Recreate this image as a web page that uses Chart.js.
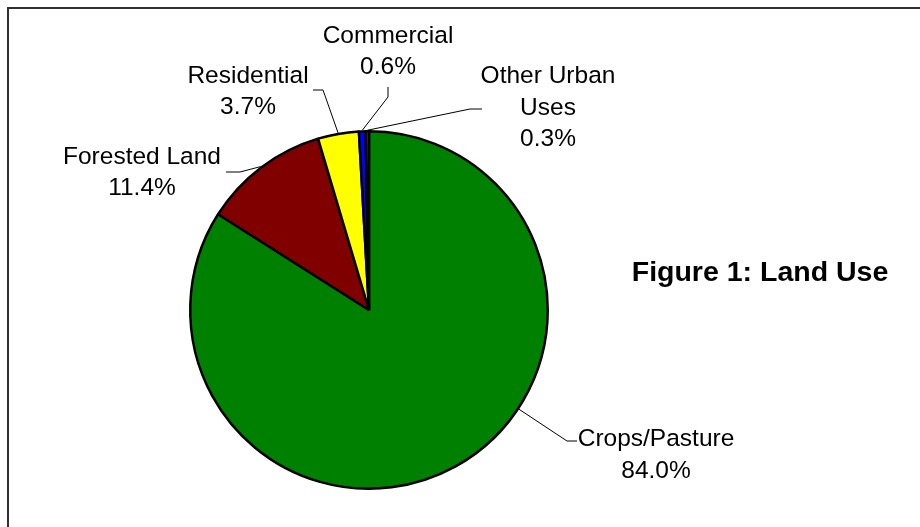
<!DOCTYPE html>
<html>
<head>
<meta charset="utf-8">
<script src="https://cdn.jsdelivr.net/npm/chart.js@4"></script>
<style>
  html, body { margin: 0; padding: 0; background: #ffffff; }
  #wrap { width: 920px; height: 527px; position: relative; }
</style>
</head>
<body>
<div id="wrap"><canvas id="c" width="920" height="527"></canvas></div>
<script>
// Land use shares, clockwise from twelve o'clock
const categories = ['Crops/Pasture', 'Forested Land', 'Residential', 'Commercial', ['Other Urban', 'Uses']];
const shares = [84.0, 11.4, 3.7, 0.6, 0.3];
const sliceColors = ['#008000', '#800000', '#FFFF00', '#0000FF', '#800080'];
const titleText = 'Figure 1: Land Use';

// Callout placement: label centre x, first baseline y, leader elbow points
// (from label outward), and how the leader meets the slice.
const labelPlacement = [
  { x: 656, y: 446, elbow: [[577, 441], [567, 441]], toward: 'elbow' },
  { x: 142, y: 163.5, elbow: [[226, 172], [240, 172]], toward: 'mid' },
  { x: 248, y: 82.5, elbow: [[313, 90], [323, 90]], toward: 'mid' },
  { x: 388, y: 42.5, elbow: [[388, 87], [388, 97]], toward: 'mid' },
  { x: 548, y: 83, elbow: [[482, 109], [470, 109]], toward: 'mid' }
];

const LABEL_FONT = '24.5px "Liberation Sans", Arial, sans-serif';
const TITLE_FONT = 'bold 28.5px "Liberation Sans", Arial, sans-serif';
const LINE_STEP = 31.5;

const calloutPlugin = {
  id: 'callouts',
  beforeDraw(chart) {
    const ctx = chart.ctx;
    ctx.save();
    ctx.fillStyle = '#ffffff';
    ctx.fillRect(0, 0, chart.width, chart.height);
    // chart frame (top and left edges)
    ctx.strokeStyle = '#303030';
    ctx.lineWidth = 2;
    ctx.beginPath();
    ctx.moveTo(8, chart.height);
    ctx.lineTo(8, 8);
    ctx.lineTo(chart.width, 8);
    ctx.stroke();
    ctx.restore();
  },
  afterDatasetsDraw(chart) {
    const ctx = chart.ctx;
    const meta = chart.getDatasetMeta(0);
    const values = chart.data.datasets[0].data;
    ctx.save();
    meta.data.forEach((arc, i) => {
      const p = labelPlacement[i];
      const { x, y, startAngle, endAngle, outerRadius } =
        arc.getProps(['x', 'y', 'startAngle', 'endAngle', 'outerRadius'], true);
      const last = p.elbow[p.elbow.length - 1];
      let a = (startAngle + endAngle) / 2;
      if (p.toward === 'elbow') {
        a = Math.atan2(last[1] - y, last[0] - x);
        while (a < startAngle) a += Math.PI * 2;
        a = Math.min(Math.max(a, startAngle), endAngle);
      }
      const r = outerRadius + 1;
      const ex = x + r * Math.cos(a);
      const ey = y + r * Math.sin(a);

      // leader line
      ctx.strokeStyle = '#000000';
      ctx.lineWidth = 1;
      ctx.beginPath();
      ctx.moveTo(p.elbow[0][0], p.elbow[0][1]);
      for (let k = 1; k < p.elbow.length; k++) ctx.lineTo(p.elbow[k][0], p.elbow[k][1]);
      ctx.lineTo(ex, ey);
      ctx.stroke();

      // label text: category name then share
      const name = chart.data.labels[i];
      const lines = (Array.isArray(name) ? name.slice() : [name]);
      lines.push(values[i].toFixed(1) + '%');
      ctx.fillStyle = '#000000';
      ctx.font = LABEL_FONT;
      ctx.textAlign = 'center';
      ctx.textBaseline = 'alphabetic';
      lines.forEach((t, k) => ctx.fillText(t, p.x, p.y + k * LINE_STEP));
    });

    // chart title
    ctx.font = TITLE_FONT;
    ctx.textAlign = 'center';
    ctx.fillText(titleText, 760, 281);
    ctx.restore();
  }
};

new Chart(document.getElementById('c'), {
  type: 'pie',
  data: {
    labels: categories,
    datasets: [{
      data: shares,
      backgroundColor: sliceColors,
      borderColor: '#000000',
      borderWidth: 2.5
    }]
  },
  options: {
    responsive: false,
    animation: false,
    events: [],
    layout: { padding: { left: 189, right: 371, top: 130, bottom: 37 } },
    plugins: {
      legend: { display: false },
      tooltip: { enabled: false },
      title: { display: false }
    }
  },
  plugins: [calloutPlugin]
});
</script>
</body>
</html>
